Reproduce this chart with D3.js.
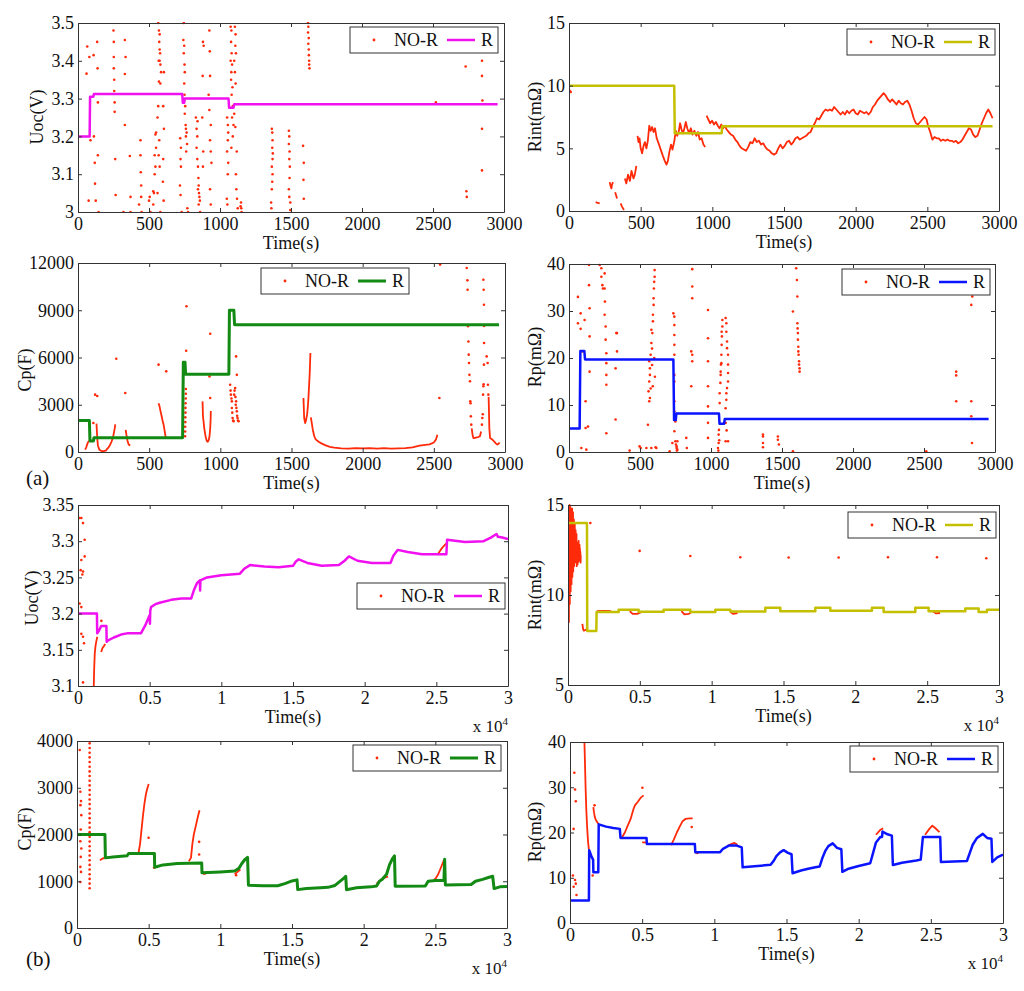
<!DOCTYPE html>
<html><head><meta charset="utf-8">
<script src="https://cdn.jsdelivr.net/npm/d3@7"></script>
<style>
body{margin:0;background:#fff}
svg{display:block}
text{font-family:"Liberation Serif","Times New Roman",serif;fill:#111}
</style>
</head><body>
<svg id="c" width="1024" height="991"></svg>
<script>
// ---------------- DATA ----------------
const seriesNames = ["NO-R", "R"];
const timeTicksA = [0, 500, 1000, 1500, 2000, 2500, 3000];
const timeLabelsA = ["0", "500", "1000", "1500", "2000", "2500", "3000"];
const timeTicksB = [0, 5000, 10000, 15000, 20000, 25000, 30000];
const timeLabelsB = ["0", "0.5", "1", "1.5", "2", "2.5", "3"];
const uocTicksA = [3, 3.1, 3.2, 3.3, 3.4, 3.5];
const rintTicksA = [0, 5, 10, 15];
const cpTicksA = [0, 3000, 6000, 9000, 12000];
const rpTicksA = [0, 10, 20, 30, 40];
const uocTicksB = [3.1, 3.15, 3.2, 3.25, 3.3, 3.35];
const rintTicksB = [5, 10, 15];
const cpTicksB = [0, 1000, 2000, 3000, 4000];
const rpTicksB = [0, 10, 20, 30, 40];

// Panel (a) Uoc
const uocA_R = [[0,3.2],[82,3.2],[85,3.305],[108,3.305],[112,3.312],[734,3.312],[738,3.289],[748,3.289],[752,3.30],[1060,3.30],[1064,3.276],[1095,3.276],[1100,3.285],[2955,3.285]];
const uocA_dots = [[65,3.438],[60,3.366],[75,3.03],[80,3.41],[88,3.19],[110,3.415],[112,3.20],[118,3.13],[120,3.075],[125,3.03],[135,3.45],[138,3.38],[140,3.29],[140,3.15],[145,3.0],
[250,3.48],[252,3.45],[252,3.41],[252,3.38],[255,3.35],[255,3.32],[258,3.29],[258,3.265],[262,3.14],[265,3.045],
[330,3.455],[335,3.41],[330,3.365],[330,3.23],[320,3.0],[365,3.148],[370,3.04],[370,3.0],
[440,3.19],[440,3.15],[442,3.105],[445,3.07],[445,3.04],[448,3.0],[430,3.02],
[500,3.03],[505,3.04],[510,3.0],[530,3.02],[535,3.05],[540,3.1],[545,3.12],[540,3.15],[550,3.17],[545,3.205],[550,3.21],[530,3.055],
[565,3.5],[570,3.48],[575,3.47],[572,3.45],[575,3.43],[578,3.42],[568,3.4],[575,3.4],[580,3.39],[585,3.37],[570,3.345],[580,3.34],[565,3.28],[560,3.25],[572,3.19],[568,3.15],[575,3.12],[560,3.05],[580,3.0],
[605,3.37],[600,3.28],[605,3.22],[600,3.14],[598,3.08],[603,3.03],
[720,3.195],[725,3.17],[722,3.14],[725,3.12],[718,3.07],[722,3.045],[730,3.0],[745,3.5],[742,3.455],[748,3.44],[745,3.42],[750,3.39],[752,3.37],[748,3.34],[750,3.31],[755,3.28],[752,3.26],[758,3.23],[760,3.22],[765,3.21],[760,3.2],[768,3.18],[762,3.16],[775,3.0],[770,3.01],
[830,3.25],[835,3.22],[840,3.2],[835,3.17],[840,3.14],[845,3.12],[848,3.09],[850,3.07],[845,3.06],[852,3.05],[855,3.04],[858,3.03],[850,3.02],[860,3.0],[842,3.24],
[880,3.45],[885,3.44],[878,3.36],[875,3.25],[882,3.16],[880,3.12],
[925,3.48],[928,3.425],[930,3.36],[920,3.31],[925,3.27],[935,3.23],[930,3.19],[935,3.16],[940,3.13],[930,3.06],[935,3.02],
[1050,3.25],[1055,3.23],[1058,3.21],[1055,3.19],[1050,3.16],[1058,3.13],[1055,3.1],[1048,3.035],[1052,3.02],[1075,3.49],[1080,3.48],[1078,3.45],[1082,3.42],[1075,3.4],[1085,3.39],[1080,3.37],[1078,3.35],[1088,3.33],[1082,3.31],[1090,3.28],[1085,3.25],[1095,3.23],[1090,3.2],[1080,3.17],
[1105,3.49],[1110,3.47],[1108,3.44],[1112,3.42],[1100,3.40],[1105,3.37],[1110,3.34],[1100,3.26],[1108,3.225],[1118,3.16],[1112,3.1],[1115,3.06],[1120,3.035],[1125,3.01],
[1148,3.025],[1150,3.01],[1152,3.0],[1145,3.015],
[1365,3.22],[1368,3.21],[1370,3.19],[1368,3.17],[1372,3.155],[1370,3.14],[1365,3.12],[1370,3.1],[1368,3.08],[1365,3.06],[1360,3.025],[1362,3.01],
[1485,3.215],[1488,3.2],[1485,3.18],[1490,3.16],[1488,3.14],[1492,3.12],[1490,3.09],[1485,3.06],[1488,3.04],[1495,3.025],[1495,3.005],
[1585,3.175],[1590,3.13],[1588,3.085],[1590,3.035],
[1620,3.5],[1622,3.49],[1620,3.475],[1625,3.46],[1622,3.445],[1625,3.43],[1626,3.415],[1628,3.40],[1628,3.39],[1630,3.38],
[2520,3.29],[2730,3.385],[2735,3.055],[2738,3.04],[2845,3.4],[2845,3.36],[2848,3.295],[2845,3.22],[2845,3.11]];
const uocA_traces = [];

// Panel (a) Rint
const rintA_R = [[0,10],[734,10],[738,6.2],[1065,6.2],[1069,6.76],[2955,6.76]];
const rintA_dots = [[5,9.6],[12,9.5]];
const rintA_traces = [
[[186,0.7],[200,0.65],[214,0.6]],
[[284,2.3],[290,2.0],[296,1.8],[300,2.1],[307,2.3]],
[[322,1.5],[330,1.2],[335,1.0]],
[[360,0.6],[370,0.35],[380,0.15],[385,0.1]],
[[390,2.6],[400,2.2],[412,2.9],[425,2.4],[436,3.2],[450,2.6],[459,2.9],[470,3.6]],
[[478,6.0],[485,5.5],[492,5.8],[500,5.0],[510,4.6],[520,5.2],[530,5.5],[540,5.0],[550,5.6],[560,6.8],[570,6.4],[580,6.7],[590,6.3],[600,6.6],[612,5.8],[625,5.4],[640,4.9],[655,4.4],[668,4.0],[680,3.7],[690,4.0],[700,4.7],[712,5.3],[722,4.9],[735,5.6],[745,6.4],[755,6.0],[765,6.3],[775,7.0],[785,6.5],[795,6.2],[805,6.6],[815,7.1],[825,6.6],[838,6.2],[850,6.6],[862,6.1],[875,6.4],[888,6.0],[900,6.3],[912,5.7],[925,5.8],[938,5.3],[950,5.1]],
[[960,7.6],[972,7.3],[985,7.0],[998,7.2],[1012,6.9],[1025,7.1],[1038,6.8],[1050,6.6],[1062,6.9],[1075,6.6],[1088,6.8],[1100,6.5],[1115,6.3],[1130,6.1],[1145,6.0],[1160,5.7],[1175,5.5],[1190,5.2],[1205,5.0],[1220,4.9],[1235,4.8],[1250,5.1],[1265,5.5],[1280,5.4],[1295,5.8],[1310,5.5],[1325,5.6],[1340,5.3],[1355,5.4],[1370,5.1],[1385,4.9],[1400,4.8],[1415,4.6],[1430,4.5],[1445,4.6],[1460,5.0],[1475,5.3],[1490,5.0],[1505,5.2],[1520,5.5],[1535,5.6],[1550,5.3],[1565,5.5],[1580,5.8],[1595,5.9],[1610,5.7],[1625,5.8],[1640,5.9],[1655,6.0],[1670,6.2],[1685,6.3],[1700,6.7],[1715,7.0],[1730,7.4],[1745,7.3],[1760,7.6],[1775,7.9],[1790,8.1],[1805,8.0],[1820,8.1],[1835,8.0],[1850,8.3],[1865,8.1],[1880,7.9],[1895,7.7],[1910,7.9],[1925,7.7],[1940,8.0],[1955,7.8],[1970,8.0],[1985,8.1],[2000,7.8],[2015,7.7],[2030,8.0],[2045,7.9],[2060,7.8],[2075,7.9],[2090,7.7],[2105,7.9],[2120,8.3],[2135,8.5],[2150,8.8],[2165,9.0],[2180,9.2],[2195,9.4],[2210,9.2],[2225,8.9],[2240,8.7],[2255,8.9],[2270,8.7],[2285,8.5],[2300,8.8],[2315,8.6],[2330,8.5],[2345,8.7],[2360,8.8],[2375,8.5],[2390,8.0],[2405,7.4],[2420,7.0],[2435,6.9],[2450,7.1],[2465,7.3],[2480,7.5],[2495,7.3],[2505,6.8],[2520,6.3],[2535,5.7],[2550,5.9],[2565,5.8],[2580,5.8],[2595,5.6],[2610,5.7],[2625,5.6],[2640,5.7],[2655,5.6],[2670,5.6],[2685,5.5],[2700,5.6],[2715,5.4],[2730,5.5],[2745,5.7],[2760,6.0],[2775,6.3],[2790,6.6],[2805,6.5],[2820,6.1],[2835,5.9],[2850,6.0],[2865,6.5],[2880,7.0],[2895,7.4],[2910,7.8],[2925,8.1],[2940,7.8],[2955,7.4]]
];

// Panel (a) Cp
const cpA_R = [[0,2000],[80,2000],[84,700],[108,700],[112,910],[735,910],[740,5700],[752,5700],[756,4930],[1060,4930],[1064,9000],[1095,9000],[1100,8080],[2958,8080]];
const cpA_dots = [[12,2010],[120,3640],[135,3560],[108,1840],[269,5925],[332,3745],[566,5545],[620,5120],
[752,1000],[753,1300],[753,1600],[754,1900],[754,2200],[755,2500],[755,2800],[756,3100],[757,3400],[758,3700],[758,4000],[760,6430],[762,9250],
[929,3430],[929,7510],[924,4800],
[1069,4270],[1072,3900],[1074,3640],[1078,3400],[1081,3215],[1081,2790],[1084,2500],[1086,2160],[1090,2000],[1093,1950],[1097,3640],[1100,3900],[1104,4060],[1106,3500],[1108,3000],[1111,3215],[1113,2800],[1116,2580],[1118,2300],[1121,2160],[1124,2000],[1128,1950],[1111,6070],[1116,4900],
[2539,3430],[2544,11900],
[2731,11680],[2736,10900],[2737,10300],[2740,7980],[2743,7020],[2745,6180],[2747,5650],[2750,4900],[2754,4490],[2756,3215],[2758,3100],[2760,2265],[2763,1735],
[2838,1735],[2841,2160],[2844,2400],[2846,3640],[2848,4170],[2850,4300],[2852,5545],[2853,6920],[2853,8000],[2852,9350],[2850,10300],[2848,10940],[2871,6070],[2878,5650],[2880,4270],[2883,3640]];
const cpA_traces = [
[[50,150],[58,300],[65,500],[72,650],[80,700],[88,750]],
[[130,1800],[135,900],[140,400],[150,150],[165,60],[180,50],[195,80],[205,200],[215,300],[225,450],[235,650],[245,900],[252,1200],[258,1500],[262,1750]],
[[335,1400],[340,1100],[348,700],[356,470],[367,420]],
[[566,3100],[573,2900],[580,2580],[587,2300],[594,2000],[601,1750],[606,1500],[611,1200],[616,950],[620,850]],
[[875,3215],[878,2265],[882,1950],[887,1520],[894,1100],[900,850],[905,700],[912,650],[918,750],[924,1000],[929,1520],[932,2100],[933,2600]],
[[1584,3430],[1589,2160],[1596,1840],[1603,2050],[1610,2400],[1616,3000],[1620,3600],[1624,4300],[1628,5000],[1631,5800],[1633,6280]],
[[1636,2200],[1643,1800],[1650,1400],[1660,1000],[1670,800],[1690,650],[1710,550],[1740,420],[1770,330],[1800,280],[1850,230],[1900,220],[1950,240],[2000,230],[2050,250],[2100,220],[2150,240],[2200,210],[2250,230],[2300,250],[2350,300],[2400,400],[2440,450],[2470,480],[2500,600],[2515,800],[2525,1100]],
[[2766,1500],[2772,1100],[2778,890],[2790,900],[2801,930],[2812,950],[2824,1000],[2832,1300]],
[[2885,3500],[2890,1500],[2895,890],[2910,800],[2923,680],[2935,550],[2946,470],[2955,520],[2962,600]]
];

// Panel (a) Rp
const rpA_R = [[0,5],[75,5],[80,21.5],[108,21.5],[113,19.7],[735,19.7],[740,6.8],[752,6.8],[756,8.2],[1056,8.2],[1060,6.0],[1092,6.0],[1097,7.0],[2955,7.0]];
const rpA_dots = [[63,33],[63,27.4],[82,29.5],[82,26.2],[87,0.85],[94,21.4],[110,28.1],[117,10.8],[117,5.1],[122,0.5],[134,5.4],[141,39.8],[141,35.5],[145,30.6],[145,24.6],[145,17.1],
[216,39.8],[228,39.1],[228,37.3],[235,35.5],[239,34.8],[251,38.0],[251,34.8],[251,29.2],[253,32.0],[258,26.7],[258,23.9],[263,21.0],[263,18.9],[263,16.4],[263,14.3],[263,4.0],
[333,25.3],[338,25.3],[338,21.4],[328,17.8],[328,6.9],[427,0.3],[497,1.2],[505,0.85],[545,0.85],[556,5.8],
[560,12.9],[565,15],[570,17.8],[575,20.7],[580,23.2],[587,25.3],[591,27.8],[596,31.3],[598,34.8],[603,37.3],[603,38.7],[585,22.0],[570,11.5],[565,10.8],[570,16.4],[565,19.3],[580,26],[591,29.2],[596,32.7],[600,36.2],[580,0.85],[610,1.0],[590,14],[585,18.5],[575,13.5],[600,20],[605,16],
[615,0.85],[709,0.14],[728,1.9],
[735,29.5],[742,28.8],[742,27.0],[742,24.9],[742,22.8],[742,20.7],[742,16.4],[742,15.0],[742,10.8],[742,8.6],[749,6.5],[742,4.4],[749,2.3],[753,1.6],[758,0.85],[763,0.5],[763,2.3],[758,1.2],[760,0.3],
[826,3.0],[830,0.85],[861,21.4],[868,20.7],[868,19.3],[861,14],[868,32.7],[868,35.2],[868,38.9],
[979,30.2],[979,24.2],[979,19.3],[979,14],[979,9.7],[979,6.2],[979,3.0],
[1049,0.85],[1054,1.9],[1054,3.7],[1056,4.7],[1061,10.4],[1061,12.5],[1066,14.7],[1068,17.1],[1073,18.9],[1073,20.7],[1075,22.8],[1077,24.6],[1080,26.7],[1080,28.1],[1075,25.6],[1068,16.4],[1070,18.6],[1058,2.5],[1052,0.3],
[1103,28.5],[1108,27.4],[1108,25.6],[1113,23.5],[1113,22.1],[1120,20.7],[1120,18.6],[1120,16.8],[1120,15.0],[1113,13.6],[1108,12.5],[1108,11.1],[1103,9.3],[1103,6.2],[1103,2.3],[1120,2.3],[1110,4.6],
[1366,1.9],[1366,3.7],[1366,3.3],[1366,1.0],[1471,3.3],[1471,2.6],[1478,1.6],[1577,0.14],[1577,29.9],
[1600,39.1],[1605,36.6],[1608,33.1],[1608,27.4],[1612,25.3],[1612,23.9],[1615,22.4],[1617,20.7],[1620,19.3],[1624,17.8],[1624,17.1],[1620,18.6],[1615,21.4],[1610,26.3],
[2516,0.14],[2727,17.1],[2727,16.3],[2727,10.8],[2833,7.6],[2833,10.8],[2833,31.3],[2840,33.1],[2838,1.9]];
const rpA_traces = [];

// Panel (b) Uoc
const uocB_R = [[0,3.2],[1320,3.2],[1340,3.173],[1450,3.176],[1550,3.18],[1620,3.183],[1980,3.183],[2000,3.161],[2100,3.163],[2500,3.167],[3000,3.171],[3500,3.173],[4400,3.173],[4700,3.184],[5000,3.198],[5020,3.186],[5040,3.204],[5100,3.209],[5400,3.213],[5700,3.215],[6500,3.219],[7200,3.221],[7900,3.221],[8100,3.233],[8300,3.242],[8500,3.246],[8520,3.232],[8540,3.246],[9000,3.25],[10000,3.253],[11300,3.255],[11600,3.262],[12000,3.267],[13000,3.265],[14000,3.264],[15000,3.266],[15200,3.272],[15400,3.275],[16000,3.27],[17000,3.266],[18200,3.267],[18600,3.273],[18900,3.279],[19500,3.273],[20500,3.27],[21800,3.27],[22000,3.28],[22300,3.288],[23000,3.285],[24000,3.282],[25700,3.282],[25750,3.302],[27000,3.299],[28300,3.3],[28800,3.305],[29200,3.31],[29300,3.306],[29600,3.305],[30000,3.303]];
const uocB_dots = [[116,3.332],[233,3.332],[350,3.325],[466,3.302],[233,3.274],[466,3.279],[186,3.26],[303,3.254],[350,3.258],[116,3.214],[233,3.209],[233,3.172],[350,3.168],[419,3.159],[350,3.105],[1630,3.19]];
const uocB_traces = [
[[1100,3.1],[1130,3.125],[1170,3.145],[1220,3.155],[1280,3.162],[1350,3.168]],
[[1620,3.147],[1700,3.152],[1800,3.155],[1900,3.158]],
[[11300,3.256],[11500,3.26],[11700,3.264]],
[[25100,3.282],[25300,3.288],[25500,3.293],[25700,3.297]]
];

// Panel (b) Rint
const rintB_R = [[0,14],[1320,14],[1340,8.0],[1970,8.0],[1990,9.05],[3526,9.05],[3526,9.18],[4918,9.18],[4918,9.07],[6658,9.07],[6658,9.18],[8514,9.18],[8514,9.05],[10254,9.05],[10254,9.18],[11298,9.18],[11298,9.08],[13734,9.08],[13734,9.29],[14778,9.29],[14778,9.1],[17214,9.1],[17214,9.29],[18258,9.29],[18258,9.13],[21158,9.13],[21158,9.29],[21970,9.29],[21970,9.05],[24174,9.05],[24174,9.29],[25102,9.29],[25102,9.1],[27654,9.1],[27654,9.25],[28582,9.25],[28582,9.05],[29162,9.05],[29162,9.18],[30000,9.18]];
const rintB_dots = [[1554,14.0],[4988,12.45],[8514,12.17],[11994,12.1],[15358,12.08],[18838,12.08],[22272,12.1],[25682,12.1],[29116,12.04]];
const rintB_traces = [
[[10,8.0],[25,13.5],[35,9.0],[50,14.8],[65,8.5],[80,14.2],[95,10.0],[110,15.0],[125,9.5],[140,14.5],[155,10.8],[170,14.9],[185,10.2],[200,14.0],[215,11.2],[230,14.7],[245,10.6],[260,13.9],[275,11.5],[290,14.8],[305,11.0],[320,14.3],[335,11.8],[350,14.6],[365,11.3],[380,13.8],[395,12.0],[410,14.2],[425,11.6],[440,13.6],[455,12.1],[470,14.0],[485,11.9],[500,13.2],[515,12.2],[530,13.6],[545,11.8],[560,13.0],[575,12.3],[590,13.4],[605,11.6],[620,12.8],[635,11.9],[650,12.6],[665,11.7],[680,12.4],[695,11.8],[710,12.9],[725,12.0],[740,13.0],[755,11.9],[770,12.5],[785,12.1],[800,12.8],[815,11.9],[830,12.6],[845,12.0],[860,12.4],[875,11.8],[890,12.2]],
[[1000,8.4],[1050,8.1],[1100,8.02],[1200,8.05],[1300,8.1]],
[[2000,9.1],[2500,9.12],[3000,9.1]],
[[4300,9.1],[4500,8.95],[4800,8.95],[5100,9.05]],
[[7900,9.1],[8100,8.92],[8400,8.95],[8600,9.05]],
[[11300,9.05],[11500,8.95],[11800,9.0]],
[[25400,9.1],[25600,8.98],[25900,9.0]]
];

// Panel (b) Cp
const cpB_R = [[0,2000],[1950,2000],[1980,1500],[2500,1520],[3500,1545],[3600,1593],[5400,1593],[5420,1300],[6000,1350],[7000,1380],[8700,1390],[8720,1180],[10000,1200],[11000,1221],[11300,1280],[11500,1380],[11700,1460],[11900,1510],[11960,914],[13000,905],[14000,905],[14500,950],[15000,1007],[15350,1030],[15400,821],[16000,845],[17000,860],[17500,870],[18000,910],[18300,985],[18600,1060],[18750,1107],[18800,820],[19500,860],[20500,880],[20900,900],[21100,1000],[21300,1043],[21600,1150],[21800,1350],[22000,1480],[22150,1543],[22200,893],[24300,900],[24500,1000],[25000,1015],[25600,1021],[25620,1200],[25650,1471],[25700,920],[27500,930],[27800,1000],[28300,1040],[28700,1080],[29000,1107],[29100,843],[29500,880],[30000,890]];
const cpB_dots = [[190,3807],[233,2914],[280,2714],[240,2628],[300,2414],[260,2107],[233,1857],[300,1700],[260,1521],[233,1307],[280,1200],[233,985],
[882,850],[882,950],[882,1050],[882,1150],[882,1250],[882,1350],[882,1450],[882,1550],[882,1650],[882,1750],[882,1850],[882,1950],[882,2050],[882,2150],[882,2250],[882,2350],[882,2450],[882,2550],[882,2650],[882,2750],[882,2850],[882,2950],[882,3050],[882,3150],[882,3250],[882,3350],[882,3450],[882,3550],[882,3650],[882,3750],[882,3850],[882,3950],
[4993,1930],[8522,1843],[8522,1571],[11100,1130]];
const cpB_traces = [
[[1600,1450],[1750,1480],[1900,1500]],
[[4300,1620],[4400,1800],[4500,2100],[4600,2400],[4700,2650],[4800,2850],[4900,2980],[5000,3080]],
[[5300,1280],[5400,1290],[5500,1300]],
[[7800,1430],[7950,1500],[8050,1800],[8150,2000],[8300,2200],[8450,2400],[8550,2520]],
[[8800,1150],[8900,1160],[9000,1170]],
[[11000,1150],[11200,1200],[11400,1250]],
[[20900,950],[21200,1030],[21500,1080],[21700,1100]],
[[24900,1040],[25000,1050],[25200,1150],[25400,1300],[25600,1450]]
];

// Panel (b) Rp
const rpB_R = [[0,5],[1310,5],[1330,16.1],[1500,14.6],[1600,14.0],[1620,11.2],[1960,11.2],[1990,21.8],[2500,21.3],[3000,21.0],[3450,20.8],[3500,18.8],[5300,18.8],[5330,17.45],[8650,17.45],[8680,15.65],[10400,15.65],[10600,16.4],[11000,17.1],[11500,17.15],[11900,16.7],[11960,12.3],[13000,12.6],[13900,12.85],[14100,13.7],[14300,14.8],[14550,15.6],[14800,16.1],[15100,15.5],[15350,15.2],[15420,11.0],[16000,11.6],[16500,12.0],[17000,12.3],[17300,12.5],[17500,14.5],[17700,16.0],[17900,17.0],[18200,17.6],[18500,16.6],[18800,16.3],[18870,11.3],[19300,12.0],[20000,12.6],[20800,13.2],[21000,15.5],[21200,17.8],[21500,19.0],[21620,19.0],[21650,20.2],[22000,19.6],[22300,19.3],[22370,12.8],[23000,13.3],[24000,13.8],[24300,14.0],[24450,19.0],[25650,19.0],[25700,13.5],[27500,13.7],[27700,15.5],[27900,17.3],[28200,18.8],[28600,19.7],[28900,18.8],[29200,18.6],[29260,13.5],[29600,14.5],[30000,15.1]];
const rpB_dots = [[300,33.2],[350,29.5],[400,26.9],[250,20.8],[200,10.5],[350,9.5],[400,8.7],[250,8.0],[450,6.2],[1572,10.5],[5015,29.9],[8435,21.2],[1700,26.0]];
const rpB_traces = [
[[1000,40],[1040,35],[1080,30],[1130,25],[1190,21],[1250,18],[1310,16.2]],
[[1618,25.6],[1660,24.5],[1720,23.4],[1800,22.7],[1900,22.2],[2000,21.9]],
[[3600,18.9],[3800,20],[4000,21.5],[4200,23],[4400,25.2],[4500,26],[4700,26.8],[4900,27.7],[5100,28.2]],
[[5000,17.8],[5150,17.8],[5300,17.7]],
[[7000,17.2],[7200,18.5],[7400,20],[7600,21.3],[7800,22.5],[8000,23],[8300,23.1],[8500,23.1]],
[[8700,15.6],[8800,15.4],[8900,15.5]],
[[10900,17.0],[11200,17.5],[11400,17.7],[11600,17.3]],
[[21200,19.5],[21500,20.6],[21700,20.9]],
[[24600,19.5],[24900,20.8],[25100,21.5],[25300,21],[25600,20.1]]
];

// ---------------- LAYOUT / STYLE ----------------
const RED = "#ff2a0a";
const FONT = '"Liberation Serif","Times New Roman",serif';
const panels = [
 {box:[78,23,504,212], xd:[0,3000], yd:[3,3.5], xt:timeTicksA, xl:timeLabelsA, yt:uocTicksA, title:"Uoc(V)", tx:37, ty:117, color:"#f010f0", lw:2.5, R:uocA_R, dots:uocA_dots, traces:uocA_traces, leg:[350,27], sci:false},
 {box:[569,23,999,211], xd:[0,3000], yd:[0,15], xt:timeTicksA, xl:timeLabelsA, yt:rintTicksA, title:"Rint(mΩ)", tx:535, ty:117, color:"#c4c000", lw:2.5, R:rintA_R, dots:rintA_dots, traces:rintA_traces, leg:[847,29], sci:false},
 {box:[78,263,505,452], xd:[0,3000], yd:[0,12000], xt:timeTicksA, xl:timeLabelsA, yt:cpTicksA, title:"Cp(F)", tx:25, ty:370, color:"#138a13", lw:3, R:cpA_R, dots:cpA_dots, traces:cpA_traces, leg:[261,268], sci:false},
 {box:[569,264,995,452], xd:[0,3000], yd:[0,40], xt:timeTicksA, xl:timeLabelsA, yt:rpTicksA, title:"Rp(mΩ)", tx:535, ty:357, color:"#0a14ff", lw:2.5, R:rpA_R, dots:rpA_dots, traces:rpA_traces, leg:[842,269], sci:false},
 {box:[78,505,508,686], xd:[0,30000], yd:[3.1,3.35], xt:timeTicksB, xl:timeLabelsB, yt:uocTicksB, title:"Uoc(V)", tx:32, ty:598, color:"#f010f0", lw:2.5, R:uocB_R, dots:uocB_dots, traces:uocB_traces, leg:[357,583], sci:true},
 {box:[568,505,999,685], xd:[0,30000], yd:[5,15], xt:timeTicksB, xl:timeLabelsB, yt:rintTicksB, title:"Rint(mΩ)", tx:535, ty:595, color:"#c4c000", lw:2.5, R:rintB_R, dots:rintB_dots, traces:rintB_traces, leg:[848,512], sci:true},
 {box:[77,741,507,928], xd:[0,30000], yd:[0,4000], xt:timeTicksB, xl:timeLabelsB, yt:cpTicksB, title:"Cp(F)", tx:25, ty:829, color:"#138a13", lw:3, R:cpB_R, dots:cpB_dots, traces:cpB_traces, leg:[353,745], sci:true},
 {box:[570,742,1003,923], xd:[0,30000], yd:[0,40], xt:timeTicksB, xl:timeLabelsB, yt:rpTicksB, title:"Rp(mΩ)", tx:535, ty:832, color:"#0a14ff", lw:2.5, R:rpB_R, dots:rpB_dots, traces:rpB_traces, leg:[850,746], sci:true}
];

const svg = d3.select("#c");
svg.append("rect").attr("width",1024).attr("height",991).attr("fill","#fff");
const defs = svg.append("defs");

panels.forEach((p, i) => {
  const [x0,y0,x1,y1] = p.box;
  const x = d3.scaleLinear().domain(p.xd).range([x0,x1]);
  const y = d3.scaleLinear().domain(p.yd).range([y1,y0]);
  const g = svg.append("g");
  const cid = "clip" + i;
  defs.append("clipPath").attr("id", cid).append("rect")
    .attr("x", x0).attr("y", y0 - 1).attr("width", x1 - x0).attr("height", y1 - y0 + 2);
  const dg = g.append("g").attr("clip-path", `url(#${cid})`);
  const line = d3.line().x(d => x(d[0])).y(d => y(d[1]));

  dg.selectAll("path.tr").data(p.traces).join("path").attr("class","tr")
    .attr("d", line).attr("fill","none").attr("stroke",RED).attr("stroke-width",1.8)
    .attr("stroke-linejoin","round");
  dg.selectAll("circle").data(p.dots).join("circle")
    .attr("cx", d => x(d[0])).attr("cy", d => y(d[1])).attr("r", 1.3).attr("fill", RED);
  dg.append("path").datum(p.R).attr("d", line).attr("fill","none")
    .attr("stroke", p.color).attr("stroke-width", p.lw).attr("stroke-linejoin","round");

  const styleAxis = sel => {
    sel.attr("font-family", FONT).attr("font-size", 18).attr("color", "#222");
    sel.selectAll("path.domain").attr("stroke", "#333").attr("stroke-width", 1);
    sel.selectAll(".tick line").attr("stroke", "#333");
  };
  const xl = p.xl;
  g.append("g").attr("transform", `translate(0,${y1})`)
    .call(d3.axisBottom(x).tickValues(p.xt).tickSize(-4).tickSizeOuter(0).tickPadding(5)
      .tickFormat((d, k) => xl[k])).call(styleAxis);
  g.append("g").attr("transform", `translate(0,${y0})`)
    .call(d3.axisTop(x).tickValues(p.xt).tickSize(-4).tickSizeOuter(0).tickFormat("")).call(styleAxis);
  g.append("g").attr("transform", `translate(${x0},0)`)
    .call(d3.axisLeft(y).tickValues(p.yt).tickSize(-4).tickSizeOuter(0).tickPadding(4)
      .tickFormat(d => String(d))).call(styleAxis);
  g.append("g").attr("transform", `translate(${x1},0)`)
    .call(d3.axisRight(y).tickValues(p.yt).tickSize(-4).tickSizeOuter(0).tickFormat("")).call(styleAxis);

  // axis titles
  g.append("text").attr("x", (x0 + x1) / 2).attr("y", y1 + 37).attr("text-anchor","middle")
    .attr("font-size", 18).text("Time(s)");
  g.append("text").attr("transform", `translate(${p.tx},${p.ty}) rotate(-90)`)
    .attr("text-anchor","middle").attr("dominant-baseline","central")
    .attr("font-size", 18).text(p.title);
  if (p.sci) {
    const t = g.append("text").attr("x", x1).attr("y", y1 + 46).attr("text-anchor","end").attr("font-size", 17);
    t.append("tspan").text("x 10");
    t.append("tspan").attr("dy", -7).attr("font-size", 11).text("4");
  }

  // legend
  const [lx, ly] = p.leg;
  const lg = g.append("g").attr("transform", `translate(${lx},${ly})`);
  lg.append("rect").attr("width", 148).attr("height", 26).attr("fill","#fff")
    .attr("stroke","#333").attr("stroke-width",1);
  lg.append("circle").attr("cx", 24).attr("cy", 13).attr("r", 1.4).attr("fill", RED);
  lg.append("text").attr("x", 44).attr("y", 19).attr("font-size", 18).text(seriesNames[0]);
  lg.append("line").attr("x1", 97).attr("x2", 125).attr("y1", 13).attr("y2", 13)
    .attr("stroke", p.color).attr("stroke-width", p.lw);
  lg.append("text").attr("x", 131).attr("y", 19).attr("font-size", 18).text(seriesNames[1]);
});

svg.append("text").attr("x", 26).attr("y", 485).attr("font-size", 21).text("(a)");
svg.append("text").attr("x", 26).attr("y", 966).attr("font-size", 21).text("(b)");
</script>
</body></html>
